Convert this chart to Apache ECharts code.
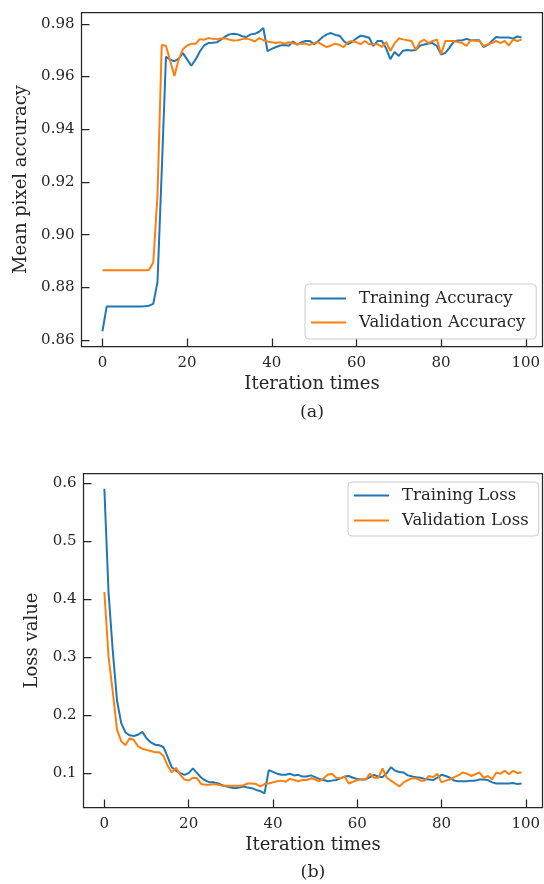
<!DOCTYPE html>
<html>
<head>
<meta charset="utf-8">
<script src="https://cdn.jsdelivr.net/npm/echarts@6/dist/echarts.min.js"></script>
<style>
html,body{margin:0;padding:0;background:#fff;}
#chart{width:544px;height:884px;}
</style>
</head>
<body>
<div id="chart"></div>
<script>
const accTicks = ['0.86','0.88','0.90','0.92','0.94','0.96','0.98'];
const lossTicks = ['0.1','0.2','0.3','0.4','0.5','0.6'];
const xTicks = ['0','20','40','60','80','100'];

const trainAcc = [
0.8634,0.8728,0.8728,0.8728,0.8728,0.8728,0.8728,0.8728,0.8728,0.8728,
0.8729,0.8731,0.8738,0.8820,0.9240,0.9675,0.9664,0.9658,0.9668,0.9689,
0.9665,0.9641,0.9665,0.9695,0.9718,0.9727,0.9728,0.9730,0.9740,0.9752,
0.9760,0.9762,0.9760,0.9753,0.9750,0.9760,0.9762,0.9770,0.9784,0.9696,
0.9705,0.9712,0.9718,0.9720,0.9717,0.9733,0.9721,0.9730,0.9735,0.9735,
0.9723,0.9735,0.9750,0.9760,0.9765,0.9758,0.9755,0.9735,0.9723,0.9732,
0.9745,0.9755,0.9752,0.9747,0.9716,0.9735,0.9735,0.9707,0.9666,0.9693,
0.9678,0.9698,0.9701,0.9699,0.9701,0.9717,0.9722,0.9725,0.9727,0.9716,
0.9683,0.9690,0.9710,0.9733,0.9737,0.9738,0.9743,0.9738,0.9738,0.9738,
0.9712,0.9720,0.9735,0.9750,0.9748,0.9748,0.9748,0.9744,0.9752,0.9748
];
const valAcc = [
0.8865,0.8865,0.8865,0.8865,0.8865,0.8865,0.8865,0.8865,0.8865,0.8865,
0.8865,0.8866,0.8895,0.9150,0.9720,0.9717,0.9660,0.9602,0.9665,0.9704,
0.9718,0.9724,0.9724,0.9742,0.9740,0.9746,0.9743,0.9742,0.9744,0.9745,
0.9740,0.9737,0.9738,0.9742,0.9744,0.9740,0.9733,0.9746,0.9738,0.9733,
0.9730,0.9727,0.9730,0.9725,0.9730,0.9726,0.9723,0.9725,0.9724,0.9720,
0.9727,0.9730,0.9720,0.9712,0.9718,0.9725,0.9720,0.9712,0.9731,0.9735,
0.9730,0.9723,0.9735,0.9723,0.9723,0.9723,0.9712,0.9731,0.9697,0.9725,
0.9745,0.9741,0.9738,0.9735,0.9701,0.9731,0.9740,0.9727,0.9735,0.9740,
0.9685,0.9735,0.9735,0.9735,0.9731,0.9727,0.9716,0.9738,0.9736,0.9735,
0.9716,0.9722,0.9727,0.9735,0.9727,0.9735,0.9718,0.9740,0.9735,0.9740
];
const trainLoss = [
0.590,0.410,0.310,0.225,0.186,0.170,0.165,0.164,0.166,0.171,
0.160,0.153,0.149,0.148,0.145,0.128,0.110,0.104,0.100,0.097,
0.100,0.108,0.100,0.092,0.087,0.084,0.084,0.082,0.079,0.077,
0.075,0.074,0.075,0.077,0.075,0.074,0.071,0.069,0.065,0.105,
0.102,0.099,0.097,0.097,0.099,0.096,0.097,0.094,0.094,0.096,
0.093,0.090,0.088,0.086,0.087,0.088,0.091,0.094,0.095,0.092,
0.090,0.089,0.089,0.093,0.097,0.094,0.093,0.100,0.110,0.104,
0.102,0.101,0.096,0.094,0.093,0.092,0.090,0.089,0.088,0.092,
0.097,0.095,0.092,0.087,0.086,0.086,0.086,0.087,0.087,0.089,
0.089,0.088,0.084,0.082,0.082,0.082,0.082,0.083,0.081,0.082
];
const valLoss = [
0.412,0.300,0.240,0.175,0.155,0.148,0.160,0.157,0.146,0.142,
0.140,0.138,0.136,0.136,0.130,0.113,0.101,0.109,0.097,0.089,
0.087,0.092,0.091,0.081,0.080,0.080,0.081,0.080,0.078,0.078,
0.078,0.078,0.078,0.079,0.082,0.082,0.081,0.077,0.081,0.082,
0.084,0.086,0.087,0.085,0.090,0.088,0.086,0.088,0.088,0.091,
0.089,0.086,0.091,0.097,0.099,0.092,0.091,0.094,0.082,0.085,
0.088,0.089,0.089,0.099,0.092,0.092,0.108,0.092,0.087,0.082,
0.077,0.084,0.088,0.091,0.091,0.087,0.087,0.095,0.093,0.099,
0.084,0.087,0.089,0.093,0.096,0.101,0.099,0.095,0.098,0.101,
0.092,0.095,0.089,0.101,0.099,0.104,0.098,0.104,0.100,0.101
];

const FONT = '"DejaVu Serif", serif';
const INK = '#262626';
const BLUE = '#1f77b4';
const ORANGE = '#ff7f0e';
const LINE_ICON = 'path://M0 0 H35 V2 H0 Z';

function pairs(arr){ return arr.map((v,i)=>[i,v]); }
function inList(list, v, dec){ return list.indexOf(v.toFixed(dec)) >= 0; }

function xAxisCfg(gridIndex){
  return {
    type:'value', gridIndex, min:-4.95, max:103.95, minInterval:20, maxInterval:20,
    name:'Iteration times', nameLocation:'middle', nameGap:29,
    nameTextStyle:{fontFamily:FONT,fontSize:18,color:INK},
    axisLine:{show:false,onZero:false},
    axisTick:{show:true,inside:true,length:8,lineStyle:{color:INK,width:1.25}},
    axisLabel:{fontFamily:FONT,fontSize:15,color:INK,margin:9,showMinLabel:false,showMaxLabel:false,
      formatter:v=> inList(xTicks, v, 0) && Math.abs(v-Math.round(v))<1e-6 ? String(Math.round(v)) : ''},
    splitLine:{show:false}
  };
}
function yAxisCfg(gridIndex, min, max, step, ticks, dec, name, gap){
  return {
    type:'value', gridIndex, min, max, minInterval:step, maxInterval:step,
    name, nameLocation:'middle', nameGap:gap,
    nameTextStyle:{fontFamily:FONT,fontSize:18,color:INK},
    axisLine:{show:false,onZero:false},
    axisTick:{show:true,inside:true,length:8,lineStyle:{color:INK,width:1.25}},
    axisLabel:{fontFamily:FONT,fontSize:15,color:INK,margin:7,showMinLabel:false,showMaxLabel:false,
      formatter:v=> inList(ticks, v, dec) ? v.toFixed(dec) : ''},
    splitLine:{show:false}
  };
}
function line(name, data, color, xi, yi){
  return {type:'line', name, data:pairs(data), xAxisIndex:xi, yAxisIndex:yi,
    symbol:'none', lineStyle:{color, width:2}, itemStyle:{color}, animation:false};
}
function legendCfg(names, left, top, padding, gap){
  return {data:names, orient:'vertical', left, top, padding, itemWidth:35, itemHeight:14, itemGap:gap,
    icon:LINE_ICON,
    backgroundColor:'rgba(255,255,255,0.8)', borderColor:'#cccccc', borderWidth:1, borderRadius:4,
    textStyle:{fontFamily:FONT,fontSize:16.5,color:INK,padding:[0,0,0,8]}};
}

const chart = echarts.init(document.getElementById('chart'), null, {renderer:'canvas'});
chart.setOption({
  backgroundColor:'#ffffff',
  animation:false,
  grid:[
    {left:81.5, top:12.5, width:461, height:334, show:true, borderColor:INK, borderWidth:1.25, backgroundColor:'transparent'},
    {left:83.5, top:473.5, width:459, height:334, show:true, borderColor:INK, borderWidth:1.25, backgroundColor:'transparent'}
  ],
  xAxis:[xAxisCfg(0), xAxisCfg(1)],
  yAxis:[
    yAxisCfg(0, 0.8576, 0.9843, 0.02, accTicks, 2, 'Mean pixel accuracy', 46),
    yAxisCfg(1, 0.0407, 0.6162, 0.1, lossTicks, 1, 'Loss value', 35)
  ],
  legend:[
    legendCfg(['Training Accuracy','Validation Accuracy'], 305, 284, [6,11,8,6], 7),
    legendCfg(['Training Loss','Validation Loss'], 348, 482, [5,10,7,6], 8)
  ],
  series:[
    line('Training Accuracy', trainAcc, BLUE, 0, 0),
    line('Validation Accuracy', valAcc, ORANGE, 0, 0),
    line('Training Loss', trainLoss, BLUE, 1, 1),
    line('Validation Loss', valLoss, ORANGE, 1, 1)
  ],
  graphic:[
    {type:'text', x:312, y:412, style:{text:'(a)', fontFamily:FONT, fontSize:17.5, fill:INK, textAlign:'center', textVerticalAlign:'middle'}},
    {type:'text', x:313, y:872, style:{text:'(b)', fontFamily:FONT, fontSize:17.5, fill:INK, textAlign:'center', textVerticalAlign:'middle'}}
  ]
});
</script>
</body>
</html>
